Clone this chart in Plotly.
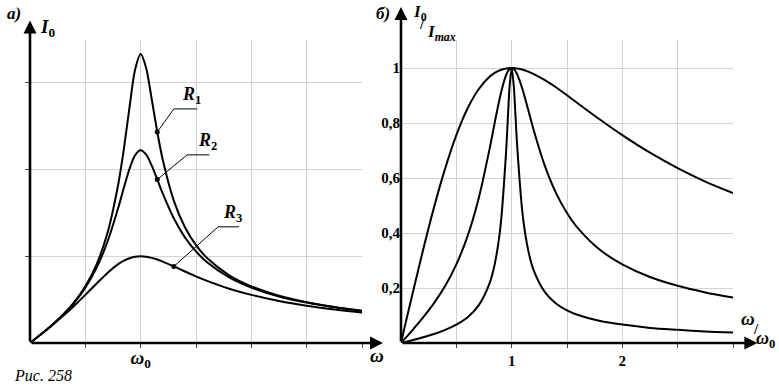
import plotly.graph_objects as go

W, H = 779, 386

# ---- data: panel a) ----
omega = [0, 0.1, 0.2, 0.3, 0.4, 0.5, 0.6, 0.7, 0.8, 0.85, 0.9, 0.95, 1.0, 1.05, 1.1, 1.15,
         1.2, 1.3, 1.4, 1.5, 1.6, 1.8, 2.0, 2.25, 2.5, 2.75, 3.0]
I_R1 = [0, 0.101, 0.208, 0.328, 0.471, 0.654, 0.902, 1.269, 1.849, 2.255, 2.726, 3.154, 3.333,
        3.170, 2.812, 2.435, 2.111, 1.640, 1.336, 1.129, 0.980, 0.781, 0.654, 0.546, 0.471, 0.416, 0.373]
I_R2 = [0, 0.101, 0.207, 0.326, 0.466, 0.639, 0.864, 1.168, 1.571, 1.799, 2.012, 2.167, 2.222,
        2.172, 2.046, 1.886, 1.723, 1.437, 1.219, 1.056, 0.931, 0.756, 0.639, 0.537, 0.466, 0.412, 0.370]
I_R3 = [0, 0.100, 0.204, 0.313, 0.430, 0.555, 0.684, 0.808, 0.912, 0.951, 0.978, 0.995, 1.0,
        0.995, 0.982, 0.963, 0.939, 0.883, 0.825, 0.768, 0.716, 0.626, 0.555, 0.485, 0.430, 0.386, 0.351]
a_xticks = [0.5, 1.0, 1.5, 2.0, 2.5, 3.0]
a_xticktext = ["", "<b><i>ω</i><sub>0</sub></b>", "", "", "", ""]
a_yticks = [1, 2, 3]

# ---- data: panel б) ----
ratio = [0, 0.05, 0.1, 0.2, 0.3, 0.4, 0.5, 0.6, 0.7, 0.8, 0.85, 0.9, 0.95, 0.97, 0.98, 1.0,
         1.02, 1.03, 1.05, 1.1, 1.15, 1.2, 1.3, 1.4, 1.5, 1.6, 1.8, 2.0, 2.25, 2.5, 2.75, 3.0]
rel_broad = [0, 0.087, 0.172, 0.339, 0.496, 0.636, 0.756, 0.852, 0.922, 0.968, 0.983, 0.993, 0.998,
             0.999, 1.0, 1.0, 1.0, 0.999, 0.998, 0.994, 0.987, 0.978, 0.956, 0.930, 0.901, 0.871,
             0.812, 0.756, 0.692, 0.636, 0.587, 0.545]
rel_medium = [0, 0.022, 0.045, 0.093, 0.146, 0.208, 0.286, 0.387, 0.523, 0.705, 0.808, 0.904, 0.975,
              0.991, 0.996, 1.0, 0.996, 0.991, 0.977, 0.920, 0.847, 0.773, 0.644, 0.546, 0.473, 0.417,
              0.338, 0.286, 0.240, 0.208, 0.184, 0.165]
rel_narrow = [0, 0.005, 0.010, 0.021, 0.033, 0.048, 0.067, 0.093, 0.136, 0.217, 0.293, 0.428, 0.698,
              0.854, 0.927, 1.0, 0.930, 0.861, 0.716, 0.464, 0.336, 0.263, 0.185, 0.144, 0.119, 0.102,
              0.080, 0.067, 0.055, 0.048, 0.042, 0.038]
b_xticks = [0.5, 1.0, 1.5, 2.0, 2.5, 3.0]
b_xticktext = ["", "<b>1</b>", "", "<b>2</b>", "", ""]
b_yticks = [0.2, 0.4, 0.6, 0.8, 1.0]
b_yticktext = ["<b>0,2</b>", "<b>0,4</b>", "<b>0,6</b>", "<b>0,8</b>", "<b>1</b>"]

SERIF = "Liberation Serif, Times New Roman, serif"
GRID = "#d2d2d2"


def px(x):
    return x / W


def py(y):
    return 1 - y / H


fig = go.Figure()
line = dict(color="black", width=2, shape="spline", smoothing=0.8)
for ys in (I_R1, I_R2, I_R3):
    fig.add_trace(go.Scatter(x=omega, y=ys, mode="lines", line=line, xaxis="x", yaxis="y",
                             hoverinfo="skip"))
for ys in (rel_broad, rel_medium, rel_narrow):
    fig.add_trace(go.Scatter(x=ratio, y=ys, mode="lines", line=line, xaxis="x2", yaxis="y2",
                             hoverinfo="skip"))

# label dots on curves
i115 = omega.index(1.15)
i13 = omega.index(1.3)
dots_x = [omega[i115], omega[i115], omega[i13]]
dots_y = [I_R1[i115], I_R2[i115], I_R3[i13]]
fig.add_trace(go.Scatter(x=dots_x, y=dots_y, mode="markers",
                         marker=dict(color="black", size=5), xaxis="x", yaxis="y", hoverinfo="skip"))

shapes = []
labels = [("1", dots_x[0], dots_y[0], 1.30, 2.70, 1.51, 1.46, 2.86),
          ("2", dots_x[1], dots_y[1], 1.42, 2.17, 1.62, 1.60, 2.33),
          ("3", dots_x[2], dots_y[2], 1.70, 1.34, 1.89, 1.83, 1.49)]
ann = []
for sub, x0, y0, xe, ye, xend, tx, ty in labels:
    shapes.append(dict(type="path", xref="x", yref="y",
                       path=f"M {x0},{y0} L {xe},{ye} L {xend},{ye}",
                       line=dict(color="black", width=1)))
    ann.append(dict(x=tx, y=ty, xref="x", yref="y", showarrow=False,
                    text=f"<b><i>R</i><sub>{sub}</sub></b>",
                    font=dict(family=SERIF, size=18, color="black")))

# axis arrows
arrow = dict(showarrow=True, arrowhead=2, arrowsize=1.0, arrowwidth=2.6, arrowcolor="black",
             text="", standoff=0, startstandoff=0)
ann.append(dict(arrow, x=3.19, y=0, ax=0, ay=0, xref="x", yref="y", axref="x", ayref="y"))
ann.append(dict(arrow, x=0, y=3.72, ax=0, ay=0, xref="x", yref="y", axref="x", ayref="y"))
ann.append(dict(arrow, x=3.22, y=0, ax=0, ay=0, xref="x2", yref="y2", axref="x2", ayref="y2"))
ann.append(dict(arrow, x=0, y=1.222, ax=0, ay=0, xref="x2", yref="y2", axref="x2", ayref="y2"))


def txt(x, y, s, size=16, xanchor="center"):
    ann.append(dict(x=px(x), y=py(y), xref="paper", yref="paper", showarrow=False, text=s,
                    xanchor=xanchor, yanchor="middle",
                    font=dict(family=SERIF, size=size, color="black")))


txt(14, 13, "<b><i>а)</i></b>", 17)
txt(383, 13, "<b><i>б)</i></b>", 17)
txt(47, 28, "<b><i>I</i><sub>0</sub></b>", 19)
txt(377, 355, "<b><i>ω</i></b>", 19)
txt(420, 13, "<b><i>I</i><sub>0</sub></b>", 17)
txt(422, 24, "<b>/</b>", 15)
txt(441, 33, "<b><i>I<sub>max</sub></i></b>", 17)
txt(748, 318, "<b><i>ω</i></b>", 19)
txt(756, 329, "<b>/</b>", 15)
txt(765, 339, "<b><i>ω</i><sub>0</sub></b>", 18)
txt(12, 375, "<i>Рис. 258</i>", 16, xanchor="left")

ydom = [py(343), py(40)]
common = dict(showgrid=True, gridcolor=GRID, gridwidth=1, zeroline=False, showline=False,
              fixedrange=True)
fig.update_layout(
    width=W, height=H, margin=dict(l=0, r=0, t=0, b=0),
    paper_bgcolor="white", plot_bgcolor="white", showlegend=False,
    font=dict(family=SERIF, color="black"),
    xaxis=dict(common, domain=[px(30), px(362)], range=[0, 3], anchor="y",
               tickmode="array", tickvals=a_xticks, ticktext=a_xticktext,
               ticks="outside", ticklen=4, tickcolor="#444", ticklabelstandoff=-7,
               tickfont=dict(family=SERIF, size=19, color="black")),
    yaxis=dict(common, domain=ydom, range=[0, 3.495], anchor="x",
               tickmode="array", tickvals=a_yticks, ticktext=["", "", ""],
               ticks="outside", ticklen=4, tickcolor="#444"),
    xaxis2=dict(common, domain=[px(401), px(733)], range=[0, 3], anchor="y2",
                tickmode="array", tickvals=b_xticks, ticktext=b_xticktext,
                ticks="outside", ticklen=4, tickcolor="#444",
                tickfont=dict(family=SERIF, size=15, color="black")),
    yaxis2=dict(common, domain=ydom, range=[0, 1.102], anchor="x2",
                tickmode="array", tickvals=b_yticks, ticktext=b_yticktext,
                ticks="", tickfont=dict(family=SERIF, size=15, color="black")),
    shapes=shapes, annotations=ann,
)

fig.write_html("out.html", config={"displayModeBar": False},
               post_script="document.body.style.margin='0px';document.body.style.padding='0px';")
